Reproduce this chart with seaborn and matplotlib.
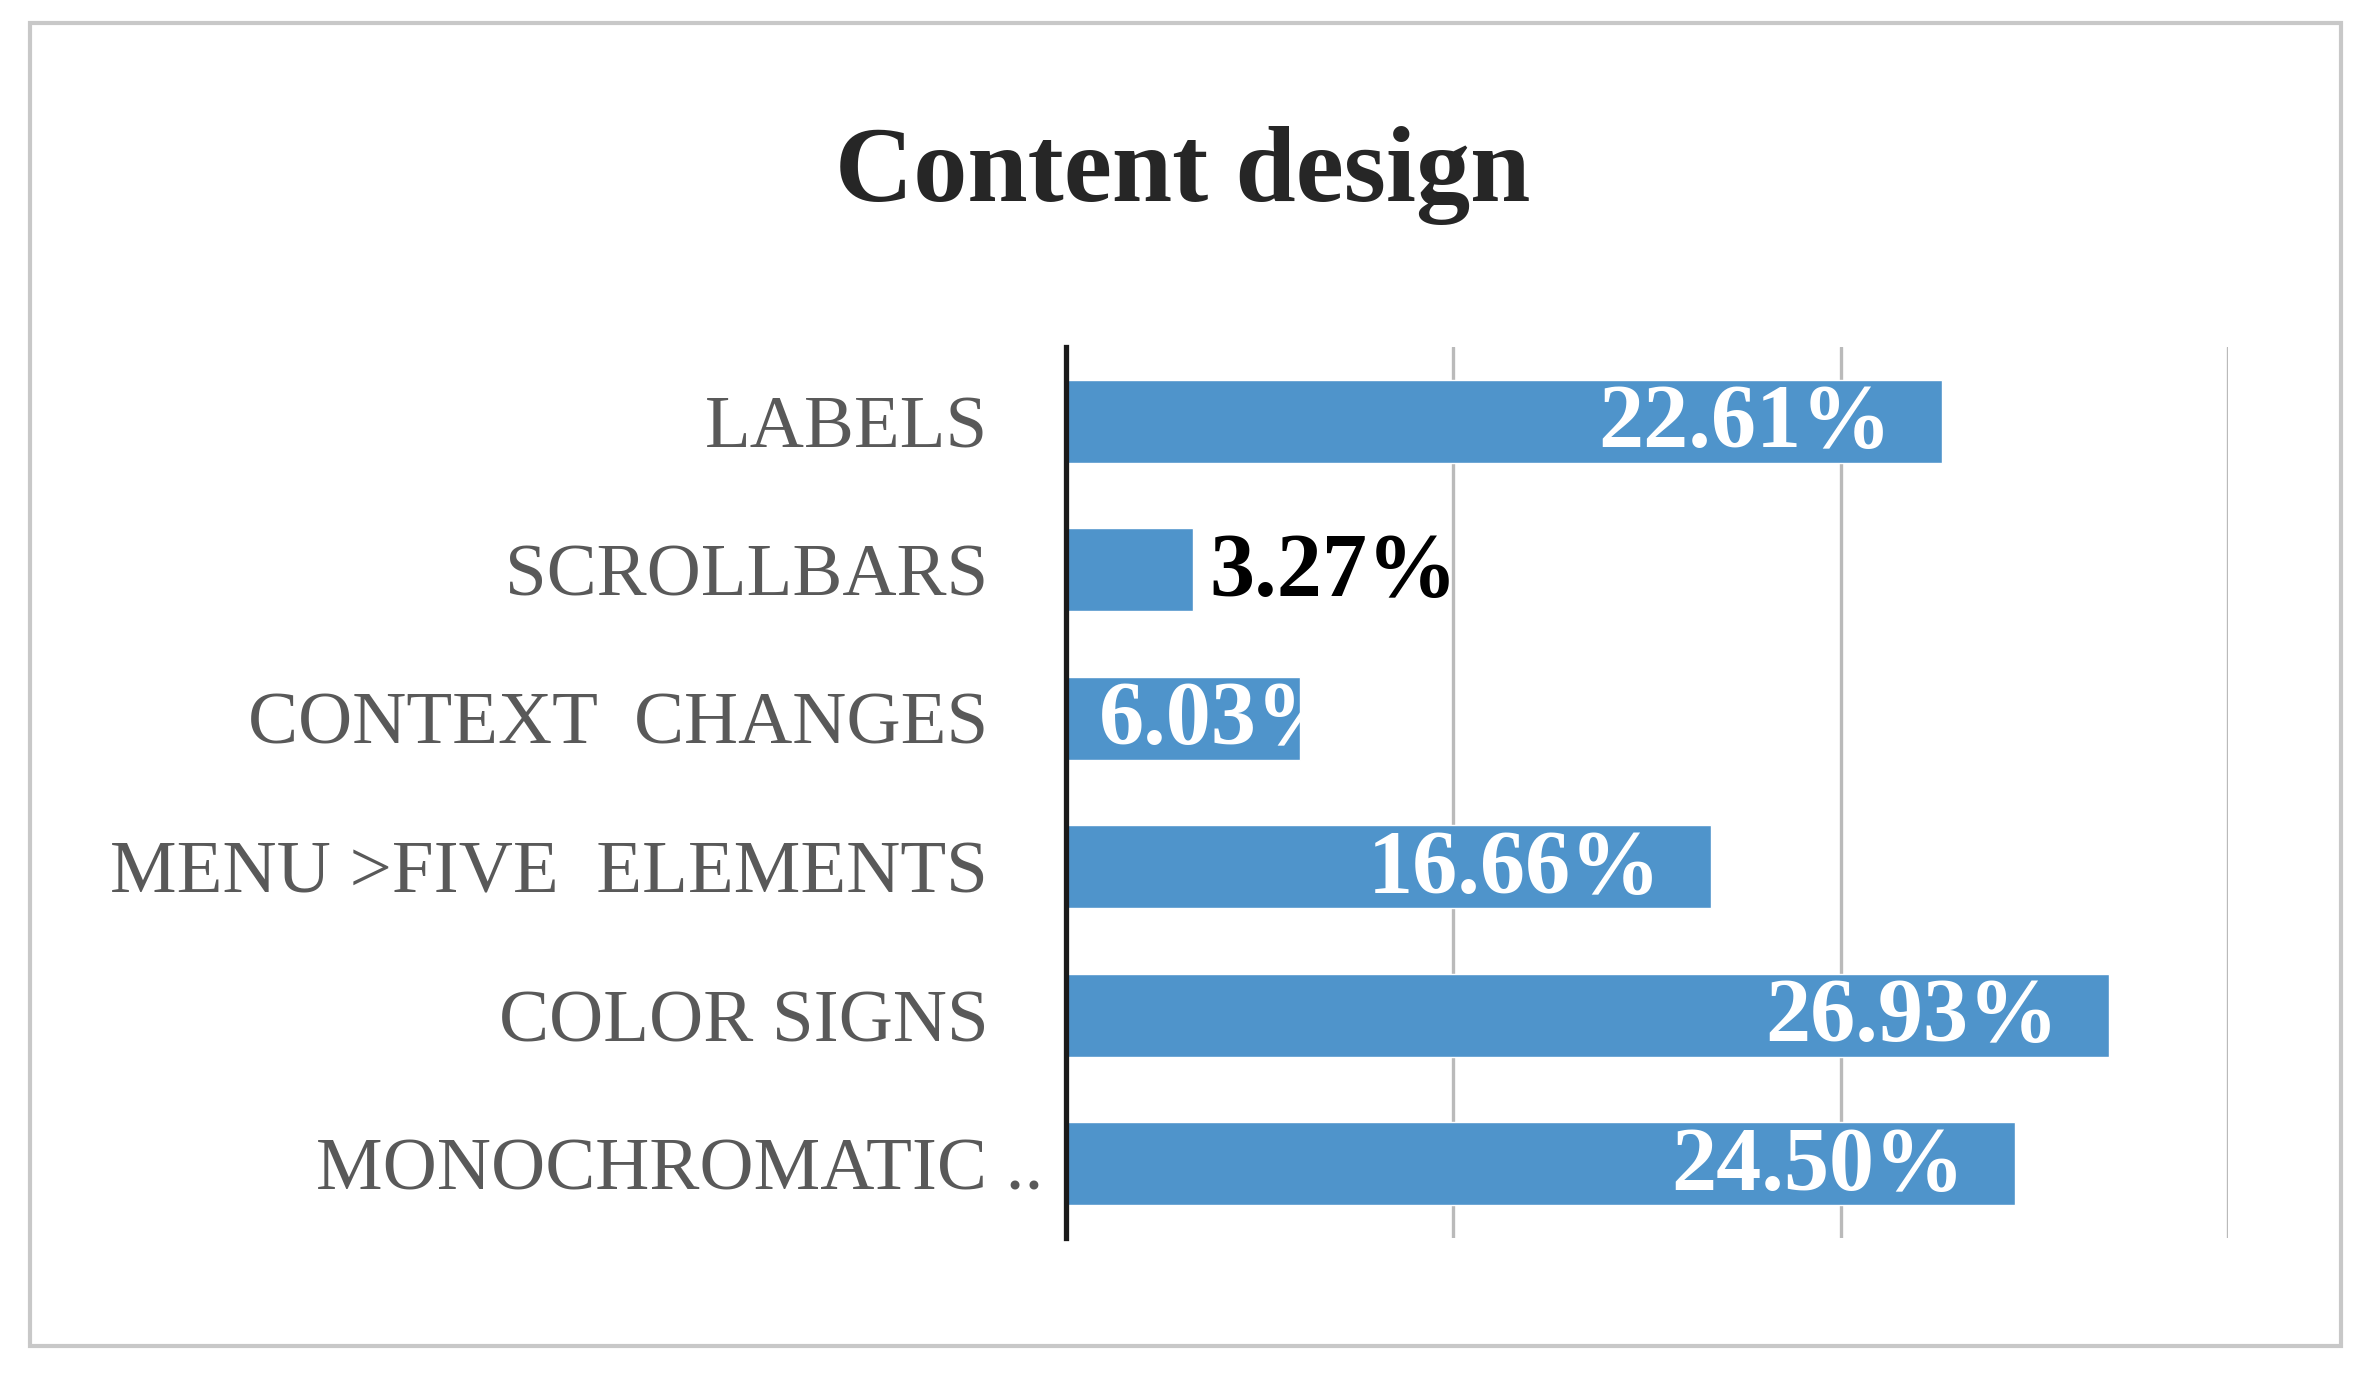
import matplotlib
matplotlib.use("Agg")
from matplotlib import pyplot as plt
from matplotlib.patches import Rectangle
import matplotlib.transforms as mtransforms
import seaborn as sns
import pandas as pd

categories = ["LABELS", "SCROLLBARS", "CONTEXT  CHANGES", "MENU >FIVE  ELEMENTS",
              "COLOR SIGNS", "MONOCHROMATIC .."]
values = [22.61, 3.27, 6.03, 16.66, 26.93, 24.50]
value_labels = ["22.61%", "3.27%", "6.03%", "16.66%", "26.93%", "24.50%"]
x_ticks = [0, 10, 20, 30]
title = "Content design"

sns.set_style("white")
plt.rcParams["font.family"] = ["Liberation Serif", "DejaVu Serif"]

df = pd.DataFrame({"category": categories, "value": values})

fig = plt.figure(figsize=(23.71, 13.81), dpi=100)
ax = fig.add_axes([1066 / 2371, 1 - 1238 / 1381, (2228 - 1066) / 2371, (1238 - 347) / 1381])

sns.barplot(ax=ax, data=df, y="category", x="value", orient="h",
            color="#4f94cb", saturation=1, width=0.56, zorder=2)

ax.set_xlim(0, 30)
ax.set_ylim(5.5, -0.5)
ax.set_xticks(x_ticks)
ax.set_xticklabels([])
ax.xaxis.grid(True, color="#bababa", lw=2.4, zorder=0)
ax.yaxis.grid(False)
ax.set_xlabel(None)
ax.set_ylabel(None)
for side in ["top", "right", "bottom"]:
    ax.spines[side].set_visible(False)
ax.spines["left"].set_color("#1a1a1a")
ax.spines["left"].set_linewidth(3.8)
ax.spines["left"].set_zorder(3)
ax.tick_params(axis="both", length=0)
ax.tick_params(axis="y", pad=56, labelsize=54, labelcolor="#595959")

# the last category name runs a bit past the others
last = ax.get_yticklabels()[-1]
last.set_transform(last.get_transform() + mtransforms.ScaledTranslation(0.55, 0, fig.dpi_scale_trans))

for i, (v, lab) in enumerate(zip(values, value_labels)):
    if v < 5:
        ax.annotate(lab, (v, i), xytext=(12, -3), textcoords="offset points",
                    ha="left", va="center", fontsize=65, fontweight="bold", color="black")
    elif v < 10:
        ax.annotate(lab, (0, i), xytext=(24, -3), textcoords="offset points",
                    ha="left", va="center", fontsize=65, fontweight="bold", color="white",
                    zorder=4)
    else:
        ax.annotate(lab, (v, i), xytext=(-36, -3), textcoords="offset points",
                    ha="right", va="center", fontsize=65, fontweight="bold", color="white",
                    zorder=4)

fig.text(0.499, 1 - 201 / 1381, title, ha="center", va="baseline",
         fontsize=78, fontweight="bold", color="#262626")

fig.patches.append(Rectangle((30 / 2371, 1 - 1346 / 1381), (2341 - 30) / 2371, (1346 - 23) / 1381,
                             transform=fig.transFigure, fill=False, ec="#c8c8c8", lw=3))

plt.savefig("out.png", dpi=100)
